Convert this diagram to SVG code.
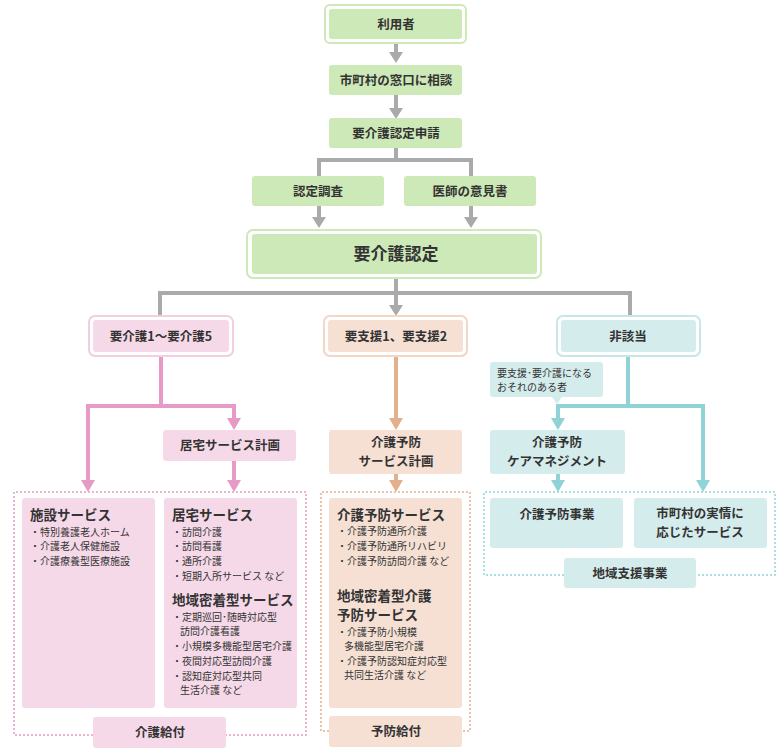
<svg xmlns="http://www.w3.org/2000/svg" width="780" height="753" viewBox="0 0 780 753">
<style>
text{font-family:"Noto Sans CJK JP","Noto Sans",sans-serif;fill:#333;font-weight:bold}
.t{font-size:12.5px;text-anchor:middle}
.h{font-size:13.5px}
.s{font-size:10px;font-weight:normal}
.g{fill:#cde9b7}
.p{fill:#f6d9e8}
.o{fill:#f5e0d3}
.c{fill:#d5ecec}
</style>
<rect width="780" height="753" fill="#fff"/>
<g id="connectors">
<g fill="none" stroke="#aaa" stroke-width="4">
<path d="M396,43V52M396,95V110M396,148V160M319,176V160H471V176M319,206V218M471,206V218M396,278V293M160,316V293H630V316M396,293V305"/>
</g>
<g fill="#aaa"><path d="M389,52h14l-7,11zM389,108h14l-7,11zM312,217h14l-7,11zM464,217h14l-7,11zM389,305h14l-7,11z"/></g>
<g fill="none" stroke="#e89ac6" stroke-width="4"><path d="M161,356V406M88,481V406H234V419M234,461V481"/></g>
<g fill="#e89ac6"><path d="M81,480h14l-7,12zM227,418h14l-7,12zM227,480h14l-7,12z"/></g>
<g fill="none" stroke="#e3b08d" stroke-width="4"><path d="M396,356V419M396,474V481"/></g>
<g fill="#e3b08d"><path d="M389,418h14l-7,12zM389,480h14l-7,12z"/></g>
<g fill="none" stroke="#8fd3d6" stroke-width="4"><path d="M628,356V406M558,419V406H703V481M558,474V481"/></g>
<g fill="#8fd3d6"><path d="M551,418h14l-7,12zM551,480h14l-7,12zM696,480h14l-7,12z"/></g>
<g fill="none" stroke-width="1.5" stroke-dasharray="2,2">
<path d="M93,735H14V492H306V735H226" stroke="#e89ac6"/>
<path d="M329,731H321V492H470V731H462" stroke="#e3b08d"/>
<path d="M564,575H484V492H775V575H696" stroke="#8fd3d6"/>
</g>
</g>
<g id="n1"><rect x="325" y="5" width="141" height="38" rx="5" fill="#fff" stroke="#cde9b7" stroke-width="2"/><rect class="g" x="329" y="9" width="133" height="30" rx="3"/><text class="t" x="396" y="29">利用者</text></g>
<g id="n2"><rect class="g" x="329" y="65" width="133" height="30" rx="3"/><text class="t" x="396" y="85">市町村の窓口に相談</text></g>
<g id="n3"><rect class="g" x="329" y="118" width="133" height="30" rx="3"/><text class="t" x="396" y="138">要介護認定申請</text></g>
<g id="n4"><rect class="g" x="252" y="176" width="132" height="30" rx="3"/><text class="t" x="318" y="196">認定調査</text></g>
<g id="n5"><rect class="g" x="404" y="176" width="132" height="30" rx="3"/><text class="t" x="470" y="196">医師の意見書</text></g>
<g id="n6"><rect x="247" y="230" width="294" height="48" rx="6" fill="#fff" stroke="#cde9b7" stroke-width="2"/><rect class="g" x="252" y="234" width="285" height="40" rx="3"/><text class="t" x="396" y="260" style="font-size:17px">要介護認定</text></g>
<g id="n7"><rect x="89" y="316" width="144" height="40" rx="6" fill="#fff" stroke="#f3cde0" stroke-width="2"/><rect class="p" x="93" y="320" width="136" height="32" rx="3"/><text class="t" x="161" y="341">要介護1～要介護5</text></g>
<g id="n8"><rect x="324" y="316" width="143" height="40" rx="6" fill="#fff" stroke="#f3d6c4" stroke-width="2"/><rect class="o" x="328" y="320" width="135" height="32" rx="3"/><text class="t" x="396" y="341">要支援1、要支援2</text></g>
<g id="n9"><rect x="557" y="316" width="143" height="40" rx="6" fill="#fff" stroke="#c8e6e6" stroke-width="2"/><rect class="c" x="561" y="320" width="135" height="32" rx="3"/><text class="t" x="628" y="341">非該当</text></g>
<g id="callout"><path class="c" d="M493,362H600a3,3 0 0 1 3,3V394a3,3 0 0 1 -3,3H562L557,404L552,397H493a3,3 0 0 1 -3,-3V365a3,3 0 0 1 3,-3Z"/><text class="s" x="497" y="377">要支援･要介護になる</text><text class="s" x="497" y="391">おそれのある者</text></g>
<g id="n10"><rect class="p" x="163" y="430" width="133" height="31" rx="3"/><text class="t" x="230" y="450">居宅サービス計画</text></g>
<g id="n11"><rect class="o" x="329" y="430" width="133" height="44" rx="3"/><text class="t" x="396" y="447">介護予防</text><text class="t" x="396" y="466">サービス計画</text></g>
<g id="n12"><rect class="c" x="490" y="430" width="135" height="44" rx="3"/><text class="t" x="557" y="447">介護予防</text><text class="t" x="557" y="466">ケアマネジメント</text></g>
<g id="n13"><rect class="p" x="22" y="498" width="133" height="210" rx="3"/><text class="h" x="30" y="520">施設サービス</text><text class="s" x="30" y="536">・特別養護老人ホーム</text><text class="s" x="30" y="550">・介護老人保健施設</text><text class="s" x="30" y="565">・介護療養型医療施設</text></g>
<g id="n14"><rect class="p" x="164" y="498" width="133" height="210" rx="3"/><text class="h" x="172" y="520">居宅サービス</text><text class="s" x="172" y="536">・訪問介護</text><text class="s" x="172" y="550">・訪問看護</text><text class="s" x="172" y="565">・通所介護</text><text class="s" x="172" y="580">・短期入所サービス など</text><text class="h" x="172" y="605">地域密着型サービス</text><text class="s" x="172" y="621">・定期巡回･随時対応型</text><text class="s" x="180" y="635">訪問介護看護</text><text class="s" x="172" y="650">・小規模多機能型居宅介護</text><text class="s" x="172" y="665">・夜間対応型訪問介護</text><text class="s" x="172" y="680">・認知症対応型共同</text><text class="s" x="180" y="694">生活介護 など</text></g>
<g id="n15"><rect class="p" x="93" y="717" width="133" height="31" rx="3"/><text class="t" x="160" y="737">介護給付</text></g>
<g id="n16"><rect class="o" x="329" y="498" width="133" height="210" rx="3"/><text class="h" x="337" y="520">介護予防サービス</text><text class="s" x="337" y="535">・介護予防通所介護</text><text class="s" x="337" y="550">・介護予防通所リハビリ</text><text class="s" x="337" y="565">・介護予防訪問介護 など</text><text class="h" x="337" y="601">地域密着型介護</text><text class="h" x="337" y="620">予防サービス</text><text class="s" x="337" y="636">・介護予防小規模</text><text class="s" x="344" y="650">多機能型居宅介護</text><text class="s" x="337" y="665">・介護予防認知症対応型</text><text class="s" x="344" y="679">共同生活介護 など</text></g>
<g id="n17"><rect class="o" x="329" y="716" width="133" height="31" rx="3"/><text class="t" x="396" y="736">予防給付</text></g>
<g id="n18"><rect class="c" x="490" y="498" width="133" height="50" rx="3"/><text class="t" x="557" y="519">介護予防事業</text></g>
<g id="n19"><rect class="c" x="634" y="498" width="133" height="50" rx="3"/><text class="t" x="700" y="518">市町村の実情に</text><text class="t" x="700" y="537">応じたサービス</text></g>
<g id="n20"><rect class="c" x="564" y="558" width="132" height="30" rx="3"/><text class="t" x="630" y="578">地域支援事業</text></g>
</svg>
